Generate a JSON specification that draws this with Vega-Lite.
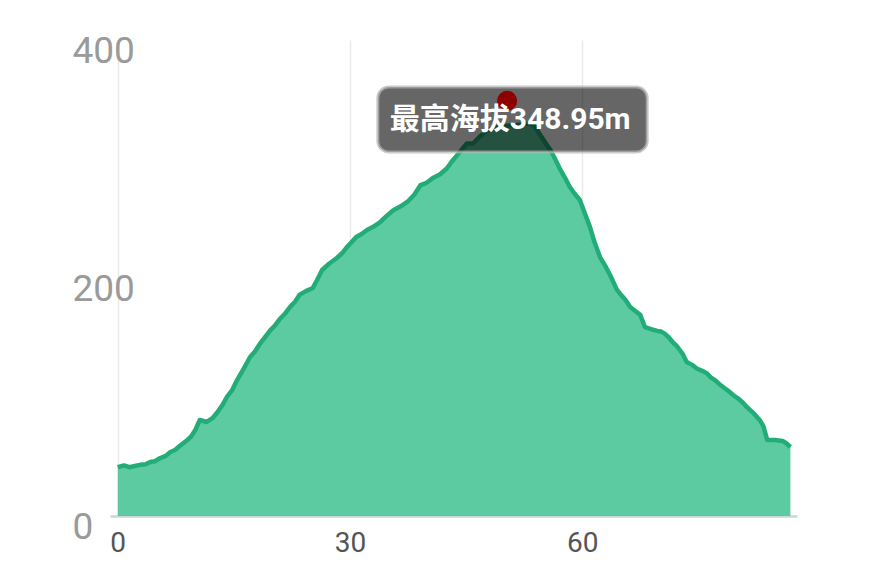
{
  "$schema": "https://vega.github.io/schema/vega-lite/v6.json",
  "autosize": "none",
  "width": 687,
  "height": 476,
  "padding": {"left": 110, "top": 40, "right": 79, "bottom": 55},
  "background": "#ffffff",
  "config": {"view": {"stroke": null}, "font": "Roboto"},
  "datasets": {
    "profile": [
      {"d": 0, "elev": 41}, {"d": 0.8, "elev": 42.5}, {"d": 1.5, "elev": 41}, {"d": 2.2, "elev": 42}, {"d": 2.9, "elev": 43},
      {"d": 3.6, "elev": 43.5}, {"d": 4.2, "elev": 45.4}, {"d": 4.8, "elev": 46}, {"d": 5.5, "elev": 48.7}, {"d": 6.2, "elev": 50.5},
      {"d": 6.8, "elev": 53.8}, {"d": 7.4, "elev": 55.5}, {"d": 8.0, "elev": 58.8}, {"d": 9.0, "elev": 63.9}, {"d": 9.5, "elev": 67},
      {"d": 10.0, "elev": 72}, {"d": 10.6, "elev": 80.7}, {"d": 11.5, "elev": 79}, {"d": 12.2, "elev": 82}, {"d": 12.8, "elev": 86.6},
      {"d": 13.5, "elev": 93}, {"d": 14.1, "elev": 100}, {"d": 14.8, "elev": 106}, {"d": 15.4, "elev": 114}, {"d": 16.2, "elev": 123},
      {"d": 17.1, "elev": 133.6}, {"d": 17.7, "elev": 138}, {"d": 18.4, "elev": 145}, {"d": 19.0, "elev": 150}, {"d": 19.7, "elev": 156},
      {"d": 20.3, "elev": 160}, {"d": 21.0, "elev": 166}, {"d": 21.6, "elev": 170}, {"d": 22.3, "elev": 176}, {"d": 22.9, "elev": 180},
      {"d": 23.5, "elev": 186}, {"d": 24.3, "elev": 189}, {"d": 25.2, "elev": 191.6}, {"d": 25.8, "elev": 199}, {"d": 26.4, "elev": 206.7},
      {"d": 27.3, "elev": 212}, {"d": 28.3, "elev": 216.8}, {"d": 29.0, "elev": 221}, {"d": 29.6, "elev": 226}, {"d": 30.2, "elev": 230},
      {"d": 30.8, "elev": 234.5}, {"d": 31.5, "elev": 237}, {"d": 32.2, "elev": 240.3}, {"d": 33.0, "elev": 243}, {"d": 33.9, "elev": 247},
      {"d": 34.7, "elev": 252}, {"d": 35.6, "elev": 257}, {"d": 36.5, "elev": 260}, {"d": 37.4, "elev": 263.9}, {"d": 38.3, "elev": 270},
      {"d": 39.1, "elev": 278}, {"d": 39.9, "elev": 280}, {"d": 40.7, "elev": 284}, {"d": 41.6, "elev": 287}, {"d": 42.5, "elev": 292},
      {"d": 43.3, "elev": 299}, {"d": 44.2, "elev": 306}, {"d": 45.1, "elev": 313}, {"d": 45.9, "elev": 313}, {"d": 46.8, "elev": 319},
      {"d": 47.7, "elev": 324}, {"d": 48.5, "elev": 326}, {"d": 49.4, "elev": 327}, {"d": 50.3, "elev": 328}, {"d": 51.3, "elev": 328.6},
      {"d": 52.3, "elev": 329}, {"d": 53.3, "elev": 330}, {"d": 53.9, "elev": 327}, {"d": 54.6, "elev": 320}, {"d": 55.2, "elev": 314},
      {"d": 55.9, "elev": 307.6}, {"d": 56.5, "elev": 300}, {"d": 57.1, "elev": 292}, {"d": 57.8, "elev": 284}, {"d": 58.4, "elev": 276.5},
      {"d": 59.0, "elev": 271}, {"d": 59.7, "elev": 265.5}, {"d": 60.3, "elev": 255}, {"d": 61.0, "elev": 243}, {"d": 61.6, "elev": 230},
      {"d": 62.3, "elev": 217.6}, {"d": 63.0, "elev": 210}, {"d": 63.6, "elev": 202.5}, {"d": 64.5, "elev": 190}, {"d": 65.0, "elev": 186},
      {"d": 65.6, "elev": 181.5}, {"d": 66.2, "elev": 175.6}, {"d": 66.9, "elev": 172}, {"d": 67.5, "elev": 169}, {"d": 68.1, "elev": 158.8},
      {"d": 68.9, "elev": 157}, {"d": 69.7, "elev": 155.5}, {"d": 70.2, "elev": 155}, {"d": 70.7, "elev": 153}, {"d": 71.2, "elev": 150},
      {"d": 71.7, "elev": 146}, {"d": 72.2, "elev": 143}, {"d": 72.6, "elev": 139.5}, {"d": 73.0, "elev": 136}, {"d": 73.5, "elev": 129.4},
      {"d": 74.2, "elev": 127}, {"d": 74.8, "elev": 124}, {"d": 75.5, "elev": 122}, {"d": 76.1, "elev": 120}, {"d": 76.6, "elev": 116.5},
      {"d": 77.2, "elev": 114}, {"d": 77.7, "elev": 111}, {"d": 78.2, "elev": 108.4}, {"d": 78.9, "elev": 105}, {"d": 79.5, "elev": 101.7},
      {"d": 80.2, "elev": 98.5}, {"d": 80.8, "elev": 95}, {"d": 81.2, "elev": 92}, {"d": 81.7, "elev": 89}, {"d": 82.2, "elev": 86},
      {"d": 82.6, "elev": 83}, {"d": 83.0, "elev": 80}, {"d": 83.4, "elev": 75.6}, {"d": 83.9, "elev": 63.9}, {"d": 84.9, "elev": 63.9},
      {"d": 85.9, "elev": 63}, {"d": 86.4, "elev": 61}, {"d": 86.9, "elev": 58}
    ],
    "peak": [{"d": 50.3, "elev": 348.95, "label": "最高海拔348.95m"}]
  },
  "layer": [
    {
      "data": {"name": "profile"},
      "mark": {"type": "area", "color": "#4bc598", "fillOpacity": 0.9, "line": {"color": "#22ad78", "strokeWidth": 4.5, "strokeJoin": "round"}},
      "encoding": {
        "x": {
          "field": "d", "type": "quantitative",
          "scale": {"domain": [-1, 87.75], "nice": false, "zero": false},
          "axis": {
            "title": null, "values": [0, 30, 60], "grid": true, "gridColor": "#e9e9e9", "gridWidth": 1.5,
            "ticks": false, "tickSize": 0, "domain": true, "domainColor": "#c9d8d8", "domainWidth": 2.5,
            "labelFont": "Roboto", "labelFontSize": 28, "labelColor": "#555555", "labelPadding": 13,
            "labelBaseline": "top", "labelFlush": false
          }
        },
        "y": {
          "field": "elev", "type": "quantitative",
          "scale": {"domain": [0, 400], "nice": false},
          "axis": {
            "title": null, "values": [0, 200, 400], "grid": false, "domain": false, "ticks": false, "tickSize": 0,
            "labelFont": "Roboto", "labelFontSize": 37, "labelColor": "#9a9a9a", "labelAlign": "left",
            "labelPadding": 38, "labelBaseline": "middle", "labelOffset": 11, "labelOverlap": false, "labelFlush": false
          }
        }
      }
    },
    {
      "data": {"name": "peak"},
      "mark": {"type": "rect", "color": "#000000", "fillOpacity": 0.6, "cornerRadius": 11, "stroke": "#b5b5b5", "strokeWidth": 3, "strokeOpacity": 0.7},
      "encoding": {
        "x": {"datum": 33.6, "type": "quantitative"},
        "x2": {"datum": 68.4},
        "y": {"datum": 360.5, "type": "quantitative"},
        "y2": {"datum": 305.9}
      }
    },
    {
      "data": {"name": "peak"},
      "mark": {"type": "point", "filled": true, "color": "#8e0000", "opacity": 1, "size": 400},
      "encoding": {
        "x": {"field": "d", "type": "quantitative"},
        "y": {"field": "elev", "type": "quantitative"}
      }
    },
    {
      "data": {"name": "peak"},
      "mark": {"type": "text", "color": "#ffffff", "font": "Roboto, 'Noto Sans CJK SC', sans-serif", "fontSize": 30, "fontWeight": "bold", "align": "center", "baseline": "middle"},
      "encoding": {
        "x": {"datum": 50.7, "type": "quantitative"},
        "y": {"datum": 332.8, "type": "quantitative"},
        "text": {"field": "label"}
      }
    }
  ]
}
